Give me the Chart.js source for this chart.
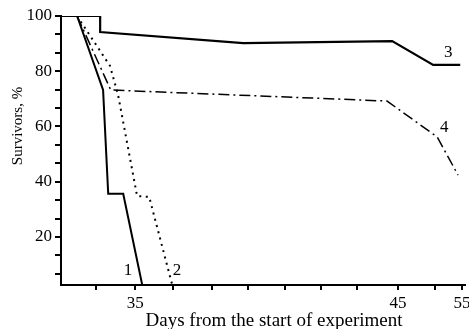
<!DOCTYPE html>
<html>
<head>
<meta charset="utf-8">
<script src="https://cdn.jsdelivr.net/npm/chart.js@4/dist/chart.umd.min.js"></script>
<style>
  html, body { margin: 0; padding: 0; background: #fff; }
  #wrap { width: 469px; height: 329px; }
</style>
</head>
<body>
<div id="wrap"><canvas id="chart" width="469" height="329"></canvas></div>
<script>
// x is in axis-position units (the day axis in the figure is not evenly spaced)
const xTickPos = [0, 1.07, 2.1, 3.17, 4.15, 5.16, 6.15, 7.13, 8.25, 9.26, 10];
const xTickLabels = ['', '35', '', '', '', '', '', '', '45', '', '55'];
const yTicks = [100, 93.33, 86.67, 80, 73.33, 66.67, 60, 53.33, 46.67, 40, 33.33, 26.67, 20, 13.33, 6.67];

// survivors, %
const line1X = [-0.52, 0.19, 0.33, 0.74, 1.26];
const line1Y = [100, 73.2, 35.6, 35.6, 2.6];
const line2X = [-0.52, 0.38, 0.6, 1.12, 1.45, 2.08];
const line2Y = [100, 81.9, 71.4, 34.8, 34.5, 2.6];
const line3X = [-0.96, 0.11, 0.11, 4.02, 8.09, 9.21, 9.95];
const line3Y = [100, 100, 94.2, 90.2, 90.9, 82.3, 82.3];
const line4X = [-0.52, 0.4, 7.95, 9.32, 9.89];
const line4Y = [100, 73.2, 69.2, 56.2, 42.4];

// curve numbers
const curveLabels = ['1', '2', '3', '4'];
const curveLabelX = [0.87, 2.21, 9.62, 9.51];
const curveLabelY = [8, 8, 86.6, 59.5];

const xTitle = 'Days from the start of experiment';
const yTitle = 'Survivors, %';

function pts(xs, ys) {
    return xs.map((x, i) => ({ x: x, y: ys[i] }));
}

Chart.defaults.color = '#000';
Chart.defaults.font.family = "'Liberation Serif', 'DejaVu Serif', serif";
Chart.defaults.font.size = 17;

// curve numbers + axis titles (titles drawn by hand to match sizes in the figure)
const extraText = {
    id: 'extraText',
    afterDraw(chart) {
        const ctx = chart.ctx;
        const xs = chart.scales.x, ys = chart.scales.y;
        ctx.save();
        ctx.fillStyle = '#000';
        ctx.font = "17px 'Liberation Serif', serif";
        ctx.textAlign = 'center';
        ctx.textBaseline = 'middle';
        curveLabels.forEach((t, i) => {
            ctx.fillText(t, xs.getPixelForValue(curveLabelX[i]), ys.getPixelForValue(curveLabelY[i]));
        });

        ctx.textBaseline = 'alphabetic';
        ctx.font = "19px 'Liberation Serif', serif";
        ctx.fillText(xTitle, 274, 326);

        ctx.font = "15px 'Liberation Serif', serif";
        ctx.translate(22, 126);
        ctx.rotate(-Math.PI / 2);
        ctx.fillText(yTitle, 0, 0);
        ctx.restore();
    }
};

let base = { fill: false, pointRadius: 0, tension: 0, borderColor: '#000', borderJoinStyle: 'miter' };

let chart = new Chart(document.querySelector('#chart'), {
    type: 'line',
    data: {
        datasets: [
            Object.assign({ label: '1', data: pts(line1X, line1Y), borderWidth: 2 }, base),
            Object.assign({ label: '2', data: pts(line2X, line2Y), borderWidth: 2, borderDash: [2, 4.5] }, base),
            Object.assign({ label: '3', data: pts(line3X, line3Y), borderWidth: 2.2 }, base),
            Object.assign({ label: '4', data: pts(line4X, line4Y), borderWidth: 1.5, borderDash: [11, 4, 2, 4] }, base)
        ]
    },
    options: {
        responsive: false,
        animation: false,
        layout: { padding: { left: 0, right: 4, top: 16, bottom: 0 }, autoPadding: false },
        plugins: { legend: { display: false }, tooltip: { enabled: false } },
        scales: {
            x: {
                type: 'linear',
                min: -0.96,
                max: 10.08,
                afterBuildTicks: (s) => { s.ticks = xTickPos.map(v => ({ value: v })); },
                // keep the "55" label from pushing the plot edge in
                afterFit: (s) => { s.height = 44; s.paddingLeft = 0; s.paddingRight = 0; },
                ticks: {
                    autoSkip: false,
                    maxRotation: 0,
                    padding: 3,
                    callback: (v, i) => xTickLabels[i]
                },
                grid: { drawOnChartArea: false, drawTicks: true, tickLength: 5, color: '#000', lineWidth: 2 },
                border: { display: true, color: '#000', width: 2 }
            },
            y: {
                type: 'linear',
                min: 2.6,
                max: 100,
                afterBuildTicks: (s) => { s.ticks = yTicks.map(v => ({ value: v })); },
                afterFit: (s) => { s.width = 61; s.paddingTop = 0; s.paddingBottom = 0; },
                ticks: {
                    autoSkip: false,
                    padding: 3,
                    callback: (v) => (v % 20 === 0 ? String(v) : '')
                },
                grid: { drawOnChartArea: false, drawTicks: true, tickLength: 6, color: '#000', lineWidth: 2 },
                border: { display: true, color: '#000', width: 2 }
            }
        }
    },
    plugins: [extraText]
});
</script>
</body>
</html>
